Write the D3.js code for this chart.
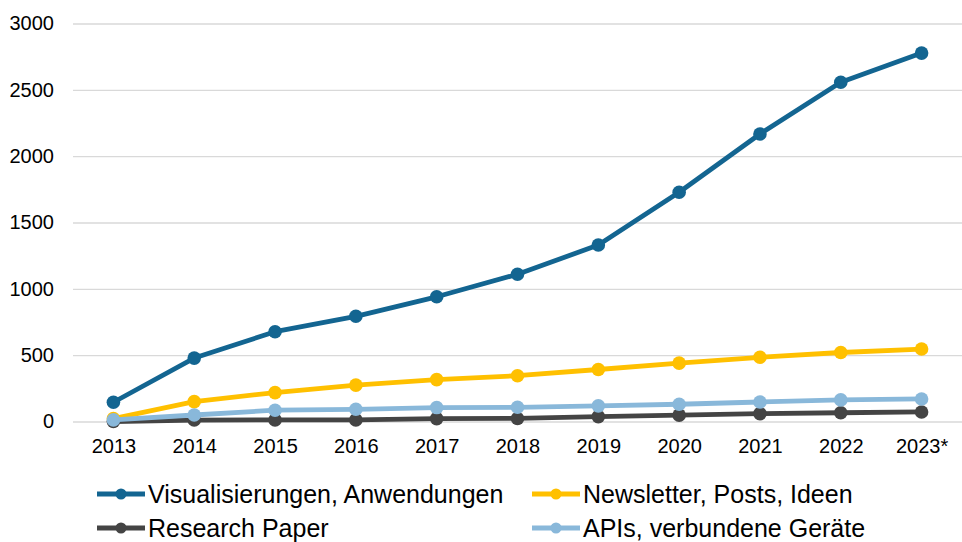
<!DOCTYPE html>
<html>
<head>
<meta charset="utf-8">
<script src="https://cdn.jsdelivr.net/npm/d3@7"></script>
<style>
  body { margin: 0; background: #fff; }
  svg { display: block; font-family: "Liberation Sans", Arial, sans-serif; }
</style>
</head>
<body>
<script>
"use strict";

// ----------------------------------------
//  Data
// ----------------------------------------
const years = ["2013", "2014", "2015", "2016", "2017", "2018", "2019", "2020", "2021", "2022", "2023*"];
const seriesNames = ["Visualisierungen, Anwendungen", "Newsletter, Posts, Ideen", "Research Paper", "APIs, verbundene Geräte"];
const visualisierungen = [145, 478, 677, 793, 940, 1110, 1330, 1728, 2167, 2557, 2777];
const newsletter = [22, 150, 218, 274, 316, 345, 392, 440, 484, 520, 546];
const research = [0, 11, 12, 12, 22, 23, 37, 48, 59, 66, 72];
const apis = [12, 49, 85, 92, 105, 107, 118, 130, 147, 163, 170];
const yTicks = [0, 500, 1000, 1500, 2000, 2500, 3000];
const colors = ["#136591", "#ffc000", "#444444", "#89b8da"];

const allSeries = [visualisierungen, newsletter, research, apis];

// ----------------------------------------
//  Layout
// ----------------------------------------
const W = 962, H = 542;
const plot = {left: 73, right: 962, top: 23.5, bottom: 421.5};

const svg = d3.select("body").append("svg")
    .attr("width", W)
    .attr("height", H);

const x_scale = d3.scalePoint()
    .domain(years)
    .range([plot.left, plot.right])
    .padding(0.5);

const y_scale = d3.scaleLinear()
    .domain([0, 3000])
    .range([plot.bottom, plot.top]);

// gridlines + y labels
const yAxis = svg.append("g")
    .attr("transform", "translate(" + plot.left + ",0)")
    .call(d3.axisLeft(y_scale).tickValues(yTicks).tickFormat(d3.format("d"))
        .tickSize(-(plot.right - plot.left)).tickPadding(19));
yAxis.select(".domain").remove();
yAxis.selectAll(".tick line").attr("stroke", "#d9d9d9").attr("stroke-width", 1.3);
yAxis.selectAll(".tick text").attr("fill", "#000").style("font-size", "20px").style("font-family", "Liberation Sans, Arial, sans-serif");

// x labels
const xAxis = svg.append("g")
    .attr("transform", "translate(0," + plot.bottom + ")")
    .call(d3.axisBottom(x_scale).tickSize(0).tickPadding(17));
xAxis.select(".domain").remove();
xAxis.selectAll(".tick text").attr("fill", "#000").style("font-size", "20px").style("font-family", "Liberation Sans, Arial, sans-serif");

// ----------------------------------------
//  Lines and markers
// ----------------------------------------
const line = d3.line()
    .x(function(d, i) { return x_scale(years[i]); })
    .y(function(d) { return y_scale(d); });

allSeries.forEach(function(vals, s) {
    const g = svg.append("g");
    g.append("path")
        .datum(vals)
        .attr("d", line)
        .attr("fill", "none")
        .attr("stroke", colors[s])
        .attr("stroke-width", 4.8)
        .attr("stroke-linejoin", "round");
    g.selectAll("circle")
        .data(vals)
        .enter()
        .append("circle")
        .attr("cx", function(d, i) { return x_scale(years[i]); })
        .attr("cy", function(d) { return y_scale(d); })
        .attr("r", 6.8)
        .attr("fill", colors[s]);
});

// ----------------------------------------
//  Legend
// ----------------------------------------
const legendPos = [[97, 494], [532, 494], [97, 528], [532, 528]];
seriesNames.forEach(function(name, s) {
    const lx = legendPos[s][0], ly = legendPos[s][1];
    const g = svg.append("g").attr("transform", "translate(" + lx + "," + ly + ")");
    g.append("line")
        .attr("x1", 0).attr("x2", 48)
        .attr("y1", 0).attr("y2", 0)
        .attr("stroke", colors[s])
        .attr("stroke-width", 4.8);
    g.append("circle")
        .attr("cx", 24).attr("cy", 0).attr("r", 5.5)
        .attr("fill", colors[s]);
    g.append("text")
        .attr("x", 51).attr("y", 0)
        .attr("dy", "0.36em")
        .style("font-size", "25px")
        .attr("fill", "#000")
        .text(name);
});
</script>
</body>
</html>
